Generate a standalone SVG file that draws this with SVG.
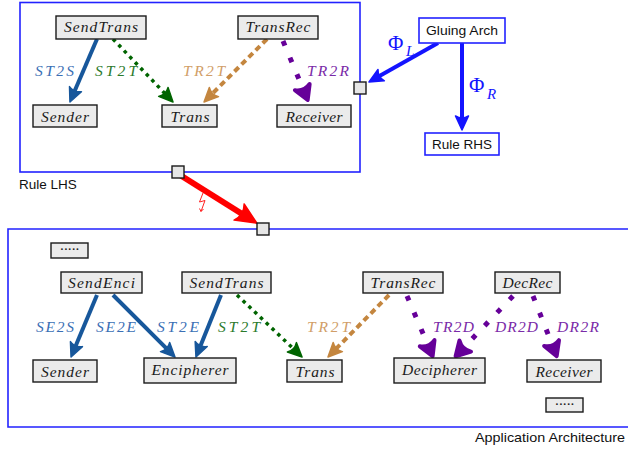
<svg xmlns="http://www.w3.org/2000/svg" width="628" height="449" viewBox="0 0 628 449">
<style>
.frame{fill:none;stroke:#2222ff;stroke-width:1.6}
.node rect{fill:#ebebeb;stroke:#1a1a1a;stroke-width:1.4}
.node text{font-family:"Liberation Serif",serif;font-style:italic;font-size:15.5px;fill:#1a1a1a;text-anchor:middle}
.port{fill:#e6e6e6;stroke:#1a1a1a;stroke-width:1.4}
.sans{font-family:"Liberation Sans",Arial,sans-serif;font-size:13.5px;fill:#111}
.lbl{font-family:"Liberation Serif",serif;font-style:italic;font-size:15.5px}
.blue{stroke:#17579b;stroke-width:4;fill:none;marker-end:url(#mBlue)}
.green{stroke:#006400;stroke-width:3.5;fill:none;stroke-dasharray:3.5 4.5;marker-end:url(#mGreen)}
.brown{stroke:#c4863f;stroke-width:4;fill:none;stroke-dasharray:6 4;marker-end:url(#mBrown)}
.purple{stroke:#660099;stroke-width:5;fill:none;stroke-dasharray:5 13;marker-end:url(#mPurple)}
.phi{stroke:#1414ff;stroke-width:4;fill:none;marker-end:url(#mPhi)}
.lb{fill:#3b6fb5}.lg{fill:#2b7a2b}.lo{fill:#d19e68}.lp{fill:#7a2aa8}
.phit{font-family:"Liberation Serif",serif;fill:#1414ff}
</style>
<defs>
<marker id="mBlue" markerUnits="userSpaceOnUse" markerWidth="30" markerHeight="30" viewBox="-6 -15 30 30" refX="4" refY="0" orient="auto" overflow="visible"><path d="M14,0 L0,-6.5 Q4,0 0,6.5 Z" fill="#17579b" stroke="#17579b" stroke-width="1.5" stroke-linejoin="round"/></marker>
<marker id="mGreen" markerUnits="userSpaceOnUse" markerWidth="30" markerHeight="30" viewBox="-6 -15 30 30" refX="4" refY="0" orient="auto" overflow="visible"><path d="M14,0 L0,-6.5 Q4,0 0,6.5 Z" fill="#006400" stroke="#006400" stroke-width="1.5" stroke-linejoin="round"/></marker>
<marker id="mBrown" markerUnits="userSpaceOnUse" markerWidth="30" markerHeight="30" viewBox="-6 -15 30 30" refX="4" refY="0" orient="auto" overflow="visible"><path d="M14,0 L0,-6.5 Q4,0 0,6.5 Z" fill="#c4863f" stroke="#c4863f" stroke-width="1.5" stroke-linejoin="round"/></marker>
<marker id="mPurple" markerUnits="userSpaceOnUse" markerWidth="30" markerHeight="30" viewBox="-6 -15 30 30" refX="5" refY="0" orient="auto" overflow="visible"><path d="M14,0 L0,-8 Q5,0 0,8 Z" fill="#660099" stroke="#660099" stroke-width="4" stroke-linejoin="round"/></marker>
<marker id="mPhi" markerUnits="userSpaceOnUse" markerWidth="30" markerHeight="30" viewBox="-6 -15 30 30" refX="4" refY="0" orient="auto" overflow="visible"><path d="M14,0 L0,-6.5 Q4,0 0,6.5 Z" fill="#1414ff" stroke="#1414ff" stroke-width="1.5" stroke-linejoin="round"/></marker>
<marker id="mRed" markerUnits="userSpaceOnUse" markerWidth="40" markerHeight="40" viewBox="-10 -20 40 40" refX="6" refY="0" orient="auto" overflow="visible"><path d="M21,0 L0,-9.5 Q6,0 0,9.5 Z" fill="#ff0000" stroke="#ff0000" stroke-width="1.5" stroke-linejoin="round"/></marker>
</defs>

<!-- frames -->
<rect id="ruleLHS" class="frame" x="20" y="2.5" width="340" height="169.5"/>
<text class="sans" x="19" y="189">Rule LHS</text>
<path id="appArch" class="frame" d="M630,229 L8,229 L8,427 L630,427"/>
<text class="sans" x="475" y="442" textLength="150" lengthAdjust="spacingAndGlyphs">Application Architecture</text>

<g id="connectors">
  <!-- top -->
  <line class="blue" x1="97" y1="39" x2="73.9" y2="92.8"/>
  <line class="green" x1="113" y1="39" x2="166.1" y2="94.8"/>
  <line class="brown" x1="267" y1="39" x2="211.1" y2="94.9"/>
  <line class="purple" x1="283" y1="41" x2="304.2" y2="91.7"/>
  <text class="lbl lb" x="35" y="76" textLength="39" lengthAdjust="spacing">ST2S</text>
  <text class="lbl lg" x="95" y="76" textLength="42" lengthAdjust="spacing">ST2T</text>
  <text class="lbl lo" x="183" y="76" textLength="42" lengthAdjust="spacing">TR2T</text>
  <text class="lbl lp" x="307" y="76" textLength="42" lengthAdjust="spacing">TR2R</text>
  <!-- gluing -->
  <line class="phi" x1="438" y1="43" x2="377.7" y2="77.1"/>
  <line class="phi" x1="462" y1="43" x2="462" y2="120"/>
  <text class="phit" x="388" y="50" font-size="21">Φ</text>
  <text class="phit" x="406" y="56" font-size="15" font-style="italic">L</text>
  <text class="phit" x="469" y="92" font-size="21">Φ</text>
  <text class="phit" x="487" y="99" font-size="15" font-style="italic">R</text>
  <!-- red -->
  <line x1="180" y1="175" x2="244.2" y2="215.2" stroke="#ff0000" stroke-width="6" marker-end="url(#mRed)"/>
  <path d="M203,193 L199.5,202 L205,200.5 L201,211.5 M199.5,208.5 L201,211.5 L203.5,209" fill="none" stroke="#ff2020" stroke-width="1"/>
  <!-- bottom -->
  <line class="blue" x1="97" y1="295" x2="74.9" y2="347.8"/>
  <line class="blue" x1="113" y1="295" x2="167.9" y2="349.9"/>
  <line class="blue" x1="221" y1="295" x2="199.7" y2="347.7"/>
  <line class="green" x1="237" y1="295" x2="294.8" y2="350.1"/>
  <line class="brown" x1="389" y1="295" x2="335" y2="349.9"/>
  <line class="purple" x1="407" y1="296" x2="429.1" y2="347.8"/>
  <line class="purple" x1="513" y1="296" x2="461.8" y2="349.7"/>
  <line class="purple" x1="533" y1="296" x2="553.4" y2="347.7"/>
  <text class="lbl lb" x="36" y="332" textLength="38" lengthAdjust="spacing">SE2S</text>
  <text class="lbl lb" x="96" y="332" textLength="40" lengthAdjust="spacing">SE2E</text>
  <text class="lbl lb" x="157" y="332" textLength="42" lengthAdjust="spacing">ST2E</text>
  <text class="lbl lg" x="218" y="332" textLength="42" lengthAdjust="spacing">ST2T</text>
  <text class="lbl lo" x="307" y="332" textLength="43" lengthAdjust="spacing">TR2T</text>
  <text class="lbl lp" x="433" y="332" textLength="41" lengthAdjust="spacing">TR2D</text>
  <text class="lbl lp" x="495" y="332" textLength="43" lengthAdjust="spacing">DR2D</text>
  <text class="lbl lp" x="557" y="332" textLength="42" lengthAdjust="spacing">DR2R</text>
</g>

<!-- ports -->
<rect id="portRight" class="port" x="354" y="82" width="12" height="12"/>
<rect id="portBottom" class="port" x="172" y="166" width="12" height="12"/>
<rect id="portApp" class="port" x="257" y="223" width="12" height="12"/>

<!-- gluing nodes -->
<g id="gluingArch"><rect x="419" y="18" width="86" height="25" fill="#fff" stroke="#2222ff" stroke-width="1.6"/><text class="sans" x="462" y="35" text-anchor="middle" textLength="72" lengthAdjust="spacingAndGlyphs">Gluing Arch</text></g>
<g id="ruleRHS"><rect x="425" y="133" width="74" height="22" fill="#fff" stroke="#2222ff" stroke-width="1.6"/><text class="sans" x="462" y="149" text-anchor="middle" textLength="60" lengthAdjust="spacingAndGlyphs">Rule RHS</text></g>

<!-- top nodes -->
<g id="lhsSendTrans" class="node"><rect x="56" y="16" width="90" height="23"/><text x="101" y="32" textLength="74" lengthAdjust="spacing">SendTrans</text></g>
<g id="lhsTransRec" class="node"><rect x="238" y="16" width="80" height="23"/><text x="278" y="32" textLength="65" lengthAdjust="spacing">TransRec</text></g>
<g id="lhsSender" class="node"><rect x="33" y="105" width="64" height="22"/><text x="65" y="122" textLength="48" lengthAdjust="spacing">Sender</text></g>
<g id="lhsTrans" class="node"><rect x="162" y="105" width="55" height="22"/><text x="190" y="122" textLength="39" lengthAdjust="spacing">Trans</text></g>
<g id="lhsReceiver" class="node"><rect x="277" y="105" width="74" height="22"/><text x="314" y="122" textLength="57" lengthAdjust="spacing">Receiver</text></g>

<!-- bottom nodes -->
<g id="dots1" class="node"><rect x="51" y="243" width="37" height="15"/><text x="69.5" y="254" font-size="10px" font-style="normal">·····</text></g>
<g id="appSendEnci" class="node"><rect x="61" y="272" width="81" height="21"/><text x="101.5" y="288" textLength="67" lengthAdjust="spacing">SendEnci</text></g>
<g id="appSendTrans" class="node"><rect x="182" y="272" width="89" height="21"/><text x="226.5" y="288" textLength="74" lengthAdjust="spacing">SendTrans</text></g>
<g id="appTransRec" class="node"><rect x="363" y="272" width="80" height="21"/><text x="403" y="288" textLength="65" lengthAdjust="spacing">TransRec</text></g>
<g id="appDecRec" class="node"><rect x="495" y="272" width="65" height="21"/><text x="527.5" y="288" textLength="50" lengthAdjust="spacing">DecRec</text></g>
<g id="appSender" class="node"><rect x="33" y="360" width="64" height="22"/><text x="65" y="377" textLength="48" lengthAdjust="spacing">Sender</text></g>
<g id="appEncipherer" class="node"><rect x="144" y="358" width="92" height="25"/><text x="190" y="375" textLength="77" lengthAdjust="spacing">Encipherer</text></g>
<g id="appTrans" class="node"><rect x="287" y="360" width="55" height="22"/><text x="315" y="377" textLength="39" lengthAdjust="spacing">Trans</text></g>
<g id="appDecipherer" class="node"><rect x="394" y="358" width="91" height="25"/><text x="439.5" y="375" textLength="75" lengthAdjust="spacing">Decipherer</text></g>
<g id="appReceiver" class="node"><rect x="527" y="360" width="74" height="22"/><text x="564" y="377" textLength="57" lengthAdjust="spacing">Receiver</text></g>
<g id="dots2" class="node"><rect x="546" y="398" width="37" height="14"/><text x="564.5" y="408.5" font-size="10px" font-style="normal">·····</text></g>
</svg>
